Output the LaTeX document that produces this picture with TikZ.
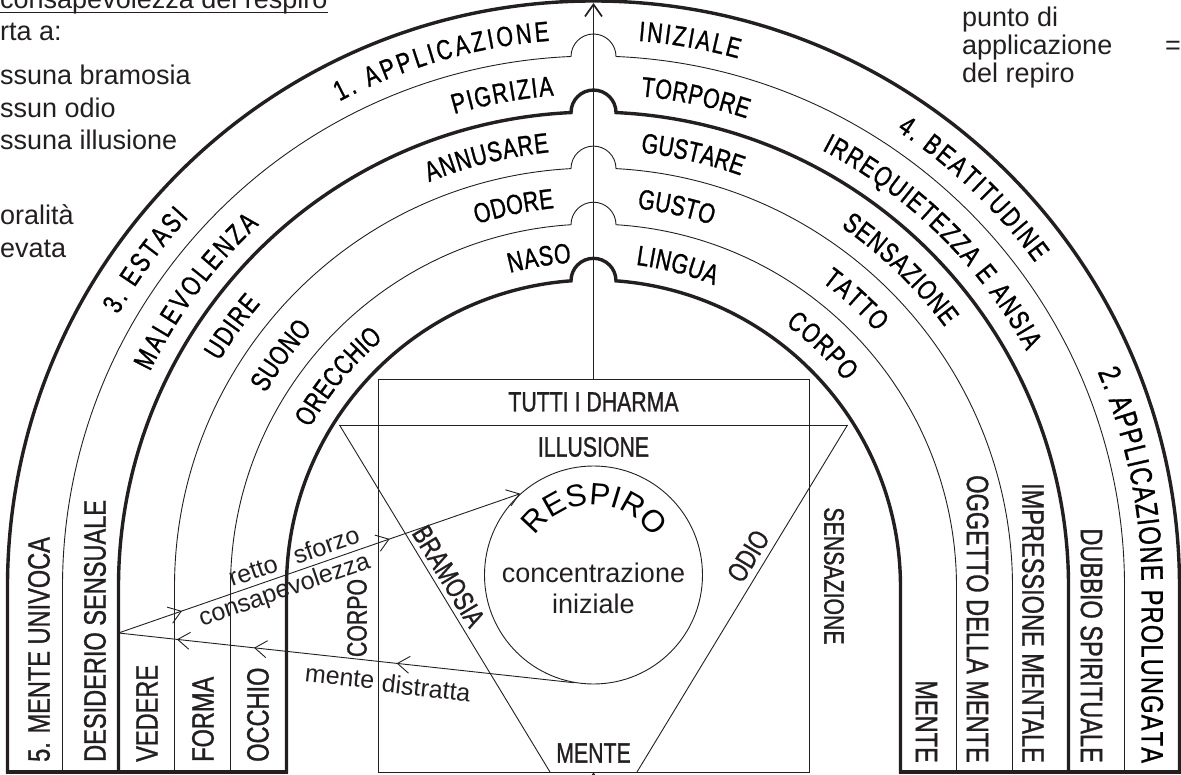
\documentclass[tikz,border=0pt]{standalone}
\usepackage{fontspec}
\setmainfont{Liberation Sans}
\newfontfamily\stretta[FakeStretch=0.76, FakeBold=1]{Liberation Sans}
\usetikzlibrary{arrows.meta,decorations.text,decorations.markings,calc}

\definecolor{inchiostro}{RGB}{35,31,32}
\newcommand{\fontarco}{\stretta\fontsize{28}{28}\selectfont}
\newcommand{\fontcolonna}{\stretta\fontsize{31}{31}\selectfont}
\newcommand{\fontscatola}{\stretta\fontsize{28}{28}\selectfont}
\newcommand{\scritta}[4]{%
  \path[decorate, decoration={text along path, text align=fit to path,
    text={|\fontarco|#4}}] (#2:#1pt) arc[start angle=#2, end angle=#3, radius=#1pt];}

\tikzset{
  spesso/.style={line width=3.4pt, line cap=rect},
  sottile/.style={line width=0.9pt},
  freccia/.style={-{Straight Barb[length=12pt,width=17pt]}},
  colsx/.style={font=\fontcolonna, rotate=90, anchor=west, inner sep=0pt},
  coldx/.style={font=\fontcolonna, rotate=-90, anchor=east, inner sep=0pt},
  scatola/.style={font=\fontscatola, inner sep=0pt},
  nota/.style={font=\fontsize{27}{27}\selectfont, anchor=base west, inner sep=0pt},
  lungo/.style={font=\fontsize{25}{25}\selectfont, inner sep=0pt, sloped},
}

\begin{document}
\begin{tikzpicture}[x=1pt, y=1pt, color=inchiostro, >={Straight Barb[length=12pt,width=17pt]}]
\useasboundingbox (-593.5,-187) rectangle (587.5,587);

% anelli
\draw[spesso] (-586,-185) -- (-586,0) arc[start angle=180, end angle=0, radius=586pt] -- (586,-185);
\foreach \raggio/\peso in {531/sottile, 475/spesso, 419/sottile, 363/sottile, 307/spesso}
  \draw[\peso] (-\raggio,-185) -- (-\raggio,0)
    arc[start angle=180, end angle={90+asin(22.5/\raggio)}, radius=\raggio pt]
    arc[start angle=180, end angle=0, radius=22.5pt]
    arc[start angle={90-asin(22.5/\raggio)}, end angle=0, radius=\raggio pt] -- (\raggio,-185);
\draw[spesso] (-586,-185) -- (-307,-185);
\draw[spesso] (307,-185) -- (586,-185);

\scritta{548}{117.6}{94.6}{1. APPLICAZIONE}
\scritta{548}{85.3}{74.7}{INIZIALE}
\scritta{548}{150.2}{137.6}{3. ESTASI}
\scritta{548}{56.4}{36.3}{4. BEATITUDINE}
\scritta{493}{106.4}{94.6}{PIGRIZIA}
\scritta{493}{84.5}{71.9}{TORPORE}
\scritta{493}{154.1}{132.7}{MALEVOLENZA}
\scritta{493}{62.4}{28.6}{IRREQUIETEZZA E ANSIA}
\scritta{437}{112.1}{95.8}{ANNUSARE}
\scritta{437}{83.8}{70.3}{GUSTARE}
\scritta{437}{148.9}{139.6}{UDIRE}
\scritta{437}{55.5}{36.5}{SENSAZIONE}
\scritta{381}{107.8}{95.9}{ODORE}
\scritta{381}{83.4}{71.9}{GUSTO}
\scritta{381}{149.4}{137.5}{SUONO}
\scritta{381}{53.2}{42}{TATTO}
\scritta{325}{104.9}{93.9}{NASO}
\scritta{325}{82.5}{68.2}{LINGUA}
\scritta{325}{150.7}{130.3}{ORECCHIO}
\scritta{325}{53.8}{39.2}{CORPO}
\path[decorate, decoration={text along path, text align=fit to path,
    text={|\fontcolonna|2. APPLICAZIONE PROLUNGATA}}]
  (23.1:548pt) arc[start angle=23.1, end angle=0, radius=548pt] -- (548,-176);

\node[colsx] (univoca) at (-554.5,-175) {5. MENTE UNIVOCA};
\node[colsx] (sensuale) at (-498.5,-175) {DESIDERIO SENSUALE};
\node[colsx] (vedere) at (-446.5,-175) {VEDERE};
\node[colsx] (forma) at (-390.5,-175) {FORMA};
\node[colsx] (occhio) at (-335.5,-175) {OCCHIO};
\node[coldx] (mentecol) at (333,-176) {MENTE};
\node[coldx] (oggetto) at (384,-176) {OGGETTO DELLA MENTE};
\node[coldx] (impressione) at (439.5,-176) {IMPRESSIONE MENTALE};
\node[coldx] (dubbio) at (498,-176) {DUBBIO SPIRITUALE};

% dharma, triangolo, respiro
\node[draw, sottile, minimum width=431pt, minimum height=393pt, inner sep=0pt] (dharma) at (0,11.5) {};
\node[draw, sottile, circle, minimum size=218pt, inner sep=0pt] (respiro) at (0,12) {};
\coordinate (vertsx) at (-254,162);
\coordinate (vertdx) at (254,162);
\coordinate (basesx) at (-43.5,-185);
\coordinate (basedx) at (43.5,-185);
\draw[sottile] (vertsx) -- (vertdx);
\draw[sottile] (vertsx) -- (basesx) node[scatola, sloped, above, pos=0.458, outer sep=5pt] (bramosia) {BRAMOSIA};
\draw[sottile] (basedx) -- (vertdx) node[scatola, sloped, above, pos=0.597, outer sep=7pt] (odio) {ODIO};

\node[scatola] (tutti) at (0,185) {TUTTI I DHARMA};
\node[scatola] (illusione) at (0,140) {ILLUSIONE};
\node[scatola] (mente) at (0,-166) {MENTE};
\node[scatola, rotate=-90] (sensazione) at (240.5,11) {SENSAZIONE};
\node[scatola, rotate=90] (corpo) at (-236.5,-31) {CORPO};

\path[decorate, decoration={text along path, text align=fit to path,
    text={|\fontsize{31}{31}\selectfont|RESPIRO}}]
  ($(respiro.center)+(146:70pt)$) arc[start angle=146, end angle=36, radius=70pt];
\node[anchor=base, font=\fontsize{27}{27}\selectfont, inner sep=0pt] (conc) at (0,5) {concentrazione};
\node[anchor=base, font=\fontsize{27}{27}\selectfont, inner sep=0pt] (iniz) at (0,-26) {iniziale};

% frecce
\coordinate (cima) at (0,584);
\coordinate (fondo) at (0,-205);
\draw[freccia, line width=1.7pt] (dharma.north) -- (cima);
\draw[freccia, line width=1.2pt] (fondo) -- (dharma.south);

\coordinate (desiderio) at (-475,-46);
\draw[sottile, freccia, postaction={decorate, decoration={markings,
    mark=at position 0.158 with {\arrow{>}}, mark=at position 0.675 with {\arrow{>}}}}]
  (desiderio) -- (respiro.132)
  node[lungo, above, pos=0.347, outer sep=6pt] (retto) {retto}
  node[lungo, above, pos=0.529, outer sep=6pt] (sforzo) {sforzo}
  node[lungo, below, pos=0.402, outer sep=3pt] (consap) {consapevolezza};
\draw[sottile, postaction={decorate, decoration={markings,
    mark=at position 0.157 with {\arrow{<}}, mark=at position 0.326 with {\arrow{<}},
    mark=at position 0.639 with {\arrow{<}}}}]
  (desiderio) -- (respiro.260)
  node[lungo, below, pos=0.49, outer sep=12pt] (distr1) {mente}
  node[lungo, below, pos=0.68, outer sep=12pt] (distr2) {distratta};

% note
\node[nota] (titolo) at (-593.5,578) {consapevolezza del respiro};
\draw[line width=1.8pt] ([yshift=-3.5pt]titolo.base west) -- ([yshift=-3.5pt]titolo.base east);
\node[nota] (porta) at (-593.5,546) {rta a:};
\node[nota] (nobramosia) at (-593.5,502) {ssuna bramosia};
\node[nota] (noodio) at (-593.5,469) {ssun odio};
\node[nota] (noillusione) at (-593.5,437) {ssuna illusione};
\node[nota] (moralita) at (-593.5,362) {oralità};
\node[nota] (elevata) at (-593.5,329.5) {evata};
\node[nota] (punto) at (368.5,560) {punto di};
\node[nota] (applic) at (368.5,532) {applicazione};
\node[nota] (repiro) at (368.5,504) {del repiro};
\node[nota] (uguale) at (571.5,532) {=};
\end{tikzpicture}
\end{document}
